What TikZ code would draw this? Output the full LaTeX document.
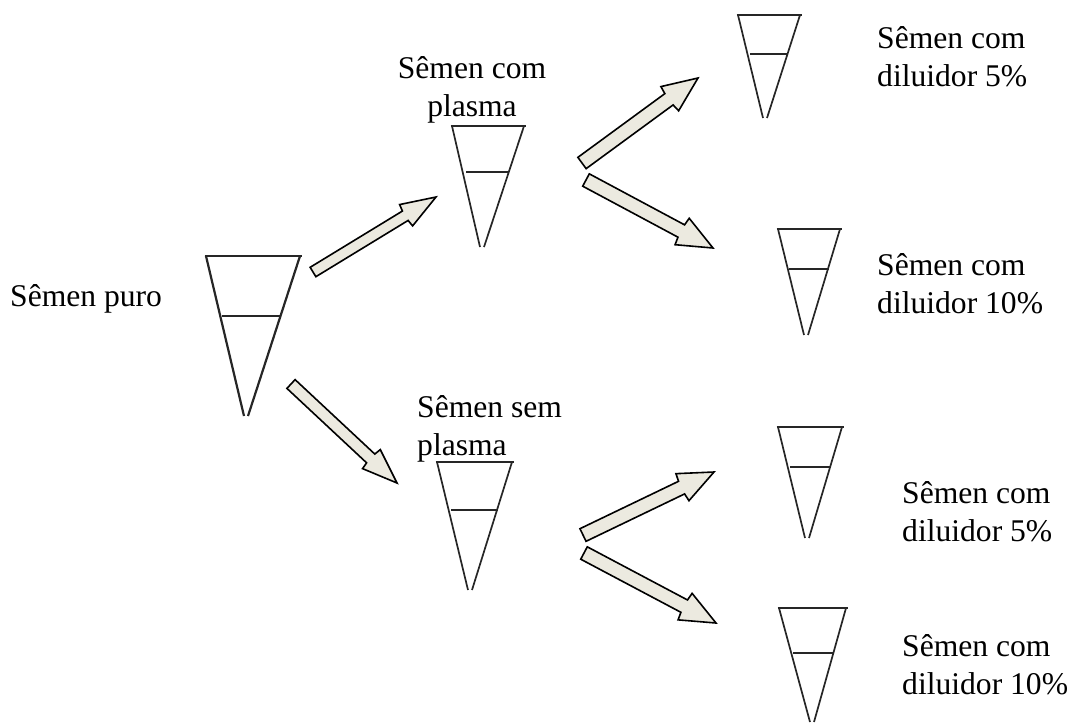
\documentclass[tikz,border=0pt]{standalone}
\usepackage{fontspec}
\setmainfont{Liberation Serif}
\usetikzlibrary{calc}
\definecolor{arrowfill}{RGB}{236,234,224}
\tikzset{
  lbl/.style={font=\fontsize{31.6}{38}\selectfont,inner sep=0pt,anchor=base west,align=left},
  lblc/.style={lbl,align=center},
  conel/.style={draw=black!85,line width=1.7pt,line cap=butt},
  blockarrow/.style={draw=black,line width=1.6pt,fill=arrowfill,line join=miter}
}
% \conefig{name}{top-left x}{top-right x}{top y}{mid-left x}{mid-right x}{mid y}{tip x}{tip y}
\newcommand{\conefig}[9]{%
  \coordinate (#1tl) at (#2,#4);
  \coordinate (#1tr) at (#3,#4);
  \coordinate (#1ml) at (#5,#7);
  \coordinate (#1mr) at (#6,#7);
  \coordinate (#1b) at (#8,#9);
  \draw[conel] ($(#1tl)+(-1.5,0)$) -- ($(#1tr)+(1.5,0)$);
  \draw[conel] (#1ml) -- (#1mr);
  \draw[conel] (#1tl) -- ($(#1b)+(-2,0)$);
  \draw[conel] (#1tr) -- ($(#1b)+(2,0)$);
}
% \blockarr{tail}{tip}{shaft half-width}{head half-width}
\newcommand{\blockarr}[4]{%
  \draw[blockarrow] let \p1=($(#2)-(#1)$), \n1={atan2(-\y1,\x1)} in
    ($(#1)+(\n1+90:#3)$) --
    ($(#2)+(\n1:-36)+(\n1+90:#3)$) --
    ($(#2)+(\n1:-35)+(\n1+90:#4)$) --
    (#2) --
    ($(#2)+(\n1:-35)+(\n1-90:#4)$) --
    ($(#2)+(\n1:-36)+(\n1-90:#3)$) --
    ($(#1)+(\n1-90:#3)$) -- cycle;
}
\begin{document}
\begin{tikzpicture}[x=1pt,y=-1pt]
\useasboundingbox (0,0) rectangle (1070,724);
\begin{scope}[conel/.append style={line width=2.2pt}]
\conefig{a}{206}{300}{256}{222}{281}{316}{246}{416}
\end{scope}
\conefig{b}{452}{524}{126}{466}{509}{172}{482}{247}
\conefig{c}{738}{800}{15}{750}{787}{54}{765}{118}
\conefig{d}{778}{840}{229}{789}{829}{269}{806}{335}
\conefig{e}{778}{842}{427}{790}{830}{467}{807}{538}
\conefig{f}{437}{512}{462}{451}{498}{510}{470}{590}
\conefig{g}{779}{846}{608}{793}{834}{653}{812}{722}

\coordinate (t1) at (313,272); \coordinate (h1) at (436,197);
\coordinate (t2) at (291,384); \coordinate (h2) at (397,483);
\coordinate (t3) at (582,163); \coordinate (h3) at (698,78);
\coordinate (t4) at (586,180); \coordinate (h4) at (713,248);
\coordinate (t5) at (583,535); \coordinate (h5) at (714,472);
\coordinate (t6) at (584,553); \coordinate (h6) at (716,623);
\blockarr{t1}{h1}{5.5}{12.5}
\blockarr{t2}{h2}{6}{13}
\blockarr{t3}{h3}{7}{15}
\blockarr{t4}{h4}{7}{15}
\blockarr{t5}{h5}{7}{15}
\blockarr{t6}{h6}{7}{15}

\node[lbl] (l1) at (10,306) {Sêmen puro};
\node[lblc,anchor=base] (l2) at (472,116) {Sêmen com\\plasma};
\node[lbl] (l3) at (417,455) {Sêmen sem\\plasma};
\node[lbl] (l4) at (877,86) {Sêmen com\\diluidor 5\%};
\node[lbl] (l5) at (877,313) {Sêmen com\\diluidor 10\%};
\node[lbl] (l6) at (902,541) {Sêmen com\\diluidor 5\%};
\node[lbl] (l7) at (902,694) {Sêmen com\\diluidor 10\%};
\end{tikzpicture}
\end{document}
